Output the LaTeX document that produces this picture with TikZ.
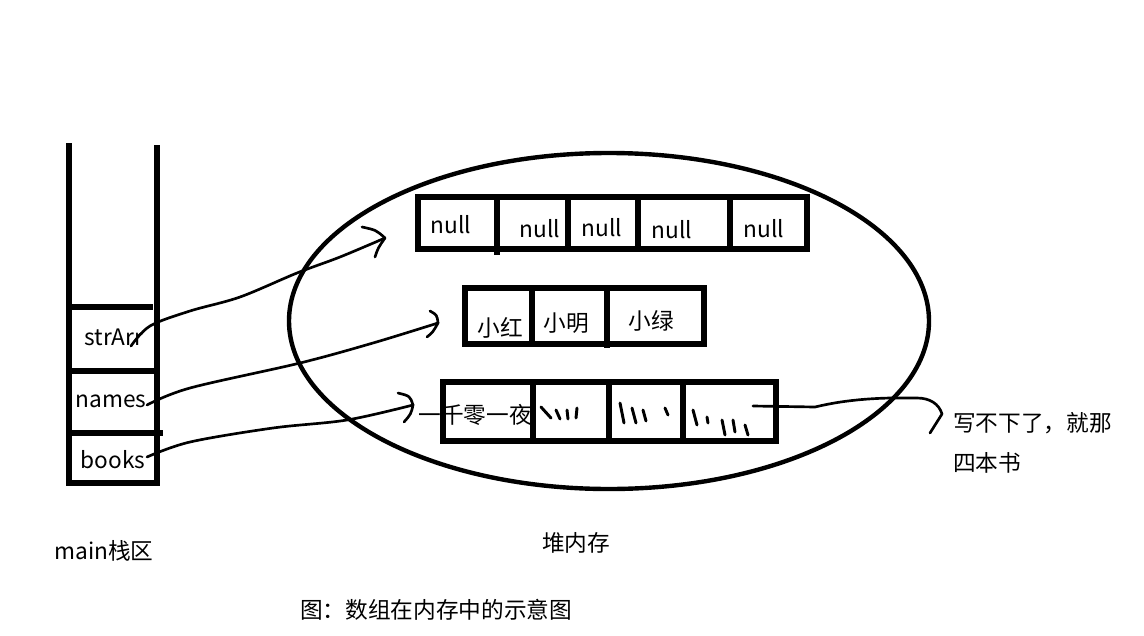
\documentclass[tikz,border=0pt]{standalone}
\usepackage{fontspec}
\setmainfont{Noto Sans CJK SC}
\begin{document}
\begin{tikzpicture}[x=0.75pt,y=-0.75pt,
  box/.style={line width=3.8pt},
  link/.style={line width=2pt, line cap=round, line join=round},
  scr/.style={line width=2.2pt, line cap=round},
  lbl/.style={inner sep=0pt, font=\fontsize{17}{20}\selectfont}]
\useasboundingbox[fill=white] (0,0) rectangle (1144,635);

% ---- main stack ----
\draw[box] (69,143) -- (69,483) -- (157,483) -- (157,145);
\draw[box] (69,307) -- (153,307);
\draw[box] (69,371) -- (157,371);
\draw[box] (66,433) -- (163,433);
\node[lbl] (strArr) at (114,337) {strArr};
\node[lbl] (names) at (111,401) {names};
\node[lbl] (books) at (113,460) {books};
\node[lbl] (mainlbl) at (104,551) {main栈区};

% ---- heap ----
\draw[line width=3.3pt] (609,321) ellipse [x radius=320, y radius=168];
\node[lbl] (heaplbl) at (576,543) {堆内存};

% null array
\draw[box] (418,197) rectangle (807,249);
\draw[box] (497,197) -- (497,255);
\foreach \x in {568,638,730} \draw[box] (\x,197) -- (\x,249);
\node[lbl] (n1) at (451,225) {null};
\node[lbl] (n2) at (540,229) {null};
\node[lbl] (n3) at (602,228) {null};
\node[lbl] (n4) at (672,230) {null};
\node[lbl] (n5) at (764,229) {null};

% names array
\draw[box] (465,288) rectangle (704,344);
\draw[box] (532,288) -- (532,344);
\draw[box] (607,286) -- (607,348);
\node[lbl] (s1) at (500,328) {小红};
\node[lbl] (s2) at (566,323) {小明};
\node[lbl] (s3) at (651,321) {小绿};

% books array
\draw[box] (443,382) rectangle (776,441);
\draw[box] (533,382) -- (533,441);
\draw[box] (609,380) -- (609,443);
\draw[box] (683,382) -- (683,441);
\node[lbl] (b1) at (475,415) {一千零一夜};
% scribbles
\draw[scr] (541,407) -- (551,418);
\draw[scr] (556,410) -- (560,419);
\draw[scr] (567,410) -- (568,419);
\draw[scr] (577,408) -- (576,418);
\draw[scr] (620,403) -- (624,423);
\draw[scr] (632,408) -- (636,423);
\draw[scr] (643,410) -- (646,421);
\draw[scr] (665,408) -- (668,415);
\draw[scr] (693,410) -- (697,425);
\draw[scr] (707,417) -- (708,423);
\draw[scr] (722,420) -- (725,435);
\draw[scr] (733,420) -- (735,432);
\draw[scr] (745,425) -- (748,435);

% ---- connectors ----
\coordinate (tA) at (385,238);
\coordinate (tB) at (438,323);
\coordinate (tC) at (413,405);
\coordinate (aS) at (131,346);
\coordinate (bS) at (147,405);
\coordinate (cS) at (147,457);

\draw[link] plot[smooth, tension=0.55] coordinates {(aS) (150,326) (190,311) (240,297) (297,273) (340,257) (tA)};
\draw[link] (362,227) .. controls (376,230) .. (tA) .. controls (378,248) .. (375,257);

\draw[link] plot[smooth, tension=0.55] coordinates {(bS) (190,388) (300,363) (373,343) (tB)};
\draw[link] (430,311) .. controls (437,315) .. (tB) .. controls (433,332) .. (427,337);

\draw[link] plot[smooth, tension=0.55] coordinates {(cS) (190,442) (273,428) (347,420) (tC)};
\draw[link] (398,393) .. controls (410,396) .. (tC) .. controls (411,414) .. (404,422);

% books overflow arrow
\coordinate (dS) at (753,406);
\coordinate (tD) at (942,414);
\draw[link] (dS) -- (815,407) .. controls (828,404) and (850,399) .. (890,398)
  -- (917,398) .. controls (930,398) and (939,404) .. (tD) -- (930,433);
\node[lbl, anchor=west] (note1) at (953,423) {写不下了，就那};
\node[lbl, anchor=west] (note2) at (953,463) {四本书};

% caption
\node[lbl] (cap) at (436,610) {图：数组在内存中的示意图};
\end{tikzpicture}
\end{document}
